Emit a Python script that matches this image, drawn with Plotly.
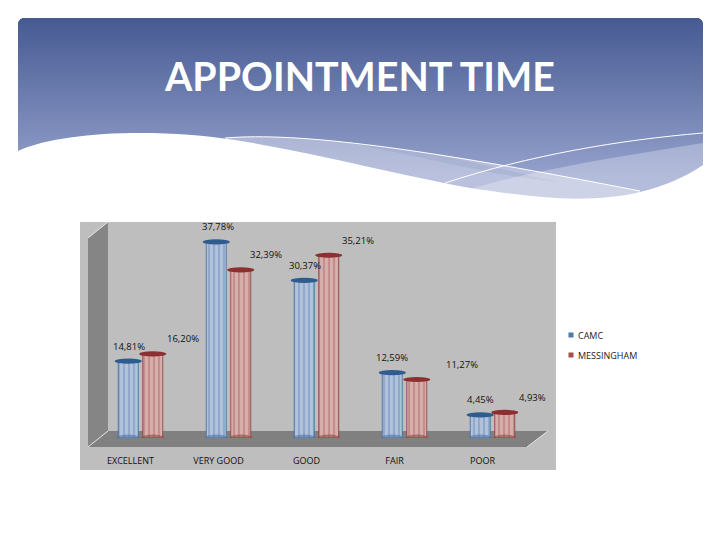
import plotly.graph_objects as go

categories = ["EXCELLENT", "VERY GOOD", "GOOD", "FAIR", "POOR"]
camc = [14.81, 37.78, 30.37, 12.59, 4.45]
messingham = [16.20, 32.39, 35.21, 11.27, 4.93]
title = "APPOINTMENT TIME"

W, H = 720, 540
Y0_PX, Y_TOP_PX = 438, 222
PX_PER_UNIT = 5.19
CAT_W = 88
X_LEFT = 96.5
PITCH = 24.5
BAR_W = 20
CHART_FONT = "Open Sans"

# horizontal label displacement from the top centre of each bar (px)
camc_off = [1, 2, 1, 0, 0]
mess_off = [30, 25, 29, 45, 28]
LABEL_UP = 15


def fx(x):
    return x / W


def fy(y):
    return 1 - y / H


def path(*segs):
    out = []
    for cmd, pts in segs:
        if cmd == "L":
            out.extend(f"L{fx(a):.5f},{fy(b):.5f}" for a, b in pts)
        else:
            out.append(cmd + " ".join(f"{fx(a):.5f},{fy(b):.5f}" for a, b in pts))
    return " ".join(out)


def lerp(a, b, t):
    return tuple(a[i] + (b[i] - a[i]) * t for i in range(3))


shapes = []


def add_path(p, fill=None, line=None, width=0, layer="below"):
    shapes.append(dict(type="path", xref="paper", yref="paper", path=p, layer=layer,
                       fillcolor=fill or "rgba(0,0,0,0)",
                       line=dict(color=line or "rgba(0,0,0,0)", width=width)))


# header gradient, one row per pixel, rounded at the top corners
top_c, bot_c = (70, 90, 146), (150, 162, 205)
for y in range(18, 206):
    t = min((y - 18) / 160, 1)
    c = lerp(top_c, bot_c, t)
    inset = 0
    if y < 24:
        inset = 6 - ((36 - (24 - y - 0.5) ** 2) ** 0.5)
    add_path(path(("M", [(18 + inset, y)]), ("L", [(703 - inset, y), (703 - inset, y + 1.4), (18 + inset, y + 1.4)]), ("Z", [])),
             fill=f"rgb({c[0]:.0f},{c[1]:.0f},{c[2]:.0f})")

# darker lens
add_path(path(("M", [(330, 140)]), ("C", [(420, 148), (480, 165), (560, 182)]),
              ("C", [(480, 175), (400, 150), (330, 140)]), ("Z", [])),
         fill="rgba(70,90,150,0.22)")
# wave bands
add_path(path(("M", [(225, 138)]), ("C", [(300, 132), (420, 148), (640, 191)]),
              ("L", [(640, 210), (225, 210)]), ("Z", [])),
         fill="rgba(255,255,255,0.34)")
add_path(path(("M", [(460, 192)]), ("C", [(540, 168), (630, 155), (703, 143)]),
              ("L", [(703, 210), (460, 210)]), ("Z", [])),
         fill="rgba(255,255,255,0.28)")
# white lower wave
add_path(path(("M", [(18, 151)]), ("C", [(60, 131), (160, 128), (235, 140)]),
              ("C", [(310, 152), (400, 175), (470, 188)]),
              ("C", [(540, 198), (630, 214), (703, 165)]),
              ("L", [(703, 215), (18, 215)]), ("Z", [])),
         fill="#ffffff")
# thin white lines
add_path(path(("M", [(225, 138)]), ("C", [(300, 132), (420, 148), (640, 191)])),
         line="#ffffff", width=1)
add_path(path(("M", [(445, 183)]), ("C", [(530, 155), (620, 140), (703, 133)])),
         line="#ffffff", width=1)

# chart panel, wall and floor
add_path(path(("M", [(80, 222)]), ("L", [(556, 222), (556, 470), (80, 470)]), ("Z", [])), fill="#bebebe")
add_path(path(("M", [(88, 238)]), ("L", [(108, 222), (108, 431), (88, 447)]), ("Z", [])), fill="#858585")
add_path(path(("M", [(88, 447)]), ("L", [(108, 431), (548, 431), (527, 447)]), ("Z", [])), fill="#808080")
add_path(path(("M", [(88, 447)]), ("L", [(108, 431)])), line="#e6e6e6", width=1)
add_path(path(("M", [(527, 447)]), ("L", [(548, 431)])), line="#e6e6e6", width=1)
add_path(path(("M", [(88, 238)]), ("L", [(108, 222)])), line="#e6e6e6", width=1)

# legend swatches sit right beside the legend text, as in the reference
for yy, col in [(335, "#4f79a6"), (355, "#aa4b4b")]:
    add_path(path(("M", [(568.5, yy - 2.5)]), ("L", [(573.5, yy - 2.5), (573.5, yy + 2.5), (568.5, yy + 2.5)]), ("Z", [])),
             fill=col)

dx = PITCH / 2 / CAT_W
cap_hw = 13.5 / CAT_W
cap_hh = 2.6 / PX_PER_UNIT
base_hw = 11.5 / CAT_W
base_hh = 3.4 / PX_PER_UNIT

annotations = []
for vals, off, sign, cap, base_c in [
    (camc, camc_off, -1, "#2f5c8e", "rgba(70,110,165,0.55)"),
    (messingham, mess_off, 1, "#8c2f30", "rgba(150,60,60,0.55)"),
]:
    for i, v in enumerate(vals):
        cx = i + sign * dx
        shapes.append(dict(type="circle", xref="x", yref="y", layer="above",
                           x0=cx - base_hw, x1=cx + base_hw, y0=-base_hh, y1=base_hh,
                           fillcolor=base_c, line=dict(width=0)))
        shapes.append(dict(type="circle", xref="x", yref="y", layer="above",
                           x0=cx - cap_hw, x1=cx + cap_hw, y0=v - cap_hh, y1=v + cap_hh,
                           fillcolor=cap, line=dict(width=0)))
        annotations.append(dict(x=cx, y=v, xref="x", yref="y", showarrow=False,
                                text=f"{v:.2f}".replace(".", ",") + "%",
                                xanchor="center", yanchor="middle",
                                xshift=off[i], yshift=LABEL_UP,
                                font=dict(family=CHART_FONT, size=9.5, color="#111111")))

annotations.append(dict(x=fx(359), y=fy(76), xref="paper", yref="paper", showarrow=False,
                        text=f"<b>{title}</b>", xanchor="center", yanchor="middle",
                        font=dict(family="Lato", size=39.4, color="#ffffff")))

fig = go.Figure()
fig.add_bar(x=categories, y=camc, name="CAMC", showlegend=False,
            marker=dict(color="#b4c4dc", line=dict(width=0.8, color="#3f6a9f"),
                        pattern=dict(shape="|", size=5, solidity=0.26, fgcolor="#3f6a9f", bgcolor="#b2c3dc")))
fig.add_bar(x=categories, y=messingham, name="MESSINGHAM", showlegend=False,
            marker=dict(color="#d4a8a8", line=dict(width=0.8, color="#8c3a3a"),
                        pattern=dict(shape="|", size=5, solidity=0.26, fgcolor="#8c3a3a", bgcolor="#d8b0ae")))
fig.add_scatter(x=[None], y=[None], mode="markers", name="CAMC", legendgroup="a",
                marker=dict(symbol="square", size=5, color="rgba(0,0,0,0)"))
fig.add_scatter(x=[None], y=[None], mode="markers", name="MESSINGHAM", legendgroup="b",
                marker=dict(symbol="square", size=5, color="rgba(0,0,0,0)"))

fig.update_layout(
    width=W, height=H, margin=dict(l=0, r=0, t=0, b=0),
    paper_bgcolor="#ffffff", plot_bgcolor="rgba(0,0,0,0)",
    barmode="group", bargap=1 - 2 * PITCH / CAT_W, bargroupgap=1 - BAR_W / PITCH,
    shapes=shapes, annotations=annotations,
    legend=dict(x=fx(538), y=fy(321), xanchor="left", yanchor="top",
                tracegroupgap=1, traceorder="grouped", bgcolor="rgba(0,0,0,0)",
                font=dict(family=CHART_FONT, size=9, color="#222222")),
    xaxis=dict(domain=[fx(X_LEFT), fx(X_LEFT + 5 * CAT_W)], showgrid=False, zeroline=False,
               showline=False, ticks="", tickfont=dict(family=CHART_FONT, size=9, color="#111111"),
               ticklabelshift=-10, ticklabelstandoff=16, range=[-0.5, 4.5]),
    yaxis=dict(domain=[fy(Y0_PX), fy(Y_TOP_PX)], range=[0, (Y0_PX - Y_TOP_PX) / PX_PER_UNIT],
               visible=False),
)
fig.write_html("out.html", config=dict(displayModeBar=False),
               post_script="document.body.style.margin='0';")
